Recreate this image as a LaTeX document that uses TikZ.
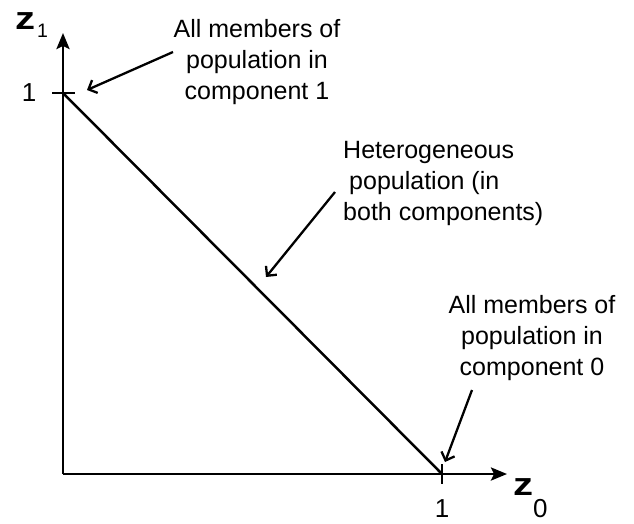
\documentclass[tikz,border=0pt]{standalone}
\usepackage{fontspec}
\setmainfont{Liberation Sans}
\usetikzlibrary{arrows.meta}
\tikzset{
  axis/.style={line width=2.7pt, -{Stealth[length=16pt,width=13pt,inset=3pt]}},
  plotline/.style={line width=2.5pt},
  tick/.style={line width=2.7pt},
  pointer/.style={line width=2.3pt, -{Straight Barb[length=7pt,width=14pt,line width=2.3pt]}},
  note/.style={inner sep=0pt, font=\fontsize{25}{31}\selectfont},
  ticklabel/.style={inner sep=0pt, font=\fontsize{26}{26}\selectfont},
  axislabel/.style={inner sep=0pt, font=\fontsize{32}{32}\selectfont}
}
\newcommand{\zglyph}{\textbf{\scalebox{1.25}[1]{z}}}
\begin{document}
\begin{tikzpicture}[x=1pt,y=-1pt]
\useasboundingbox[fill=white] (0,0) rectangle (634,523);
% axes
\coordinate (O) at (63,474);
\coordinate (ytip) at (63,33);
\coordinate (xtip) at (507,474);
\coordinate (p1) at (63,93);
\coordinate (q1) at (442,474);
\draw[axis] (O) -- (ytip);
\draw[axis] (O) -- (xtip);
\draw[plotline] (p1) -- (q1);
% ticks
\coordinate (ty1) at (52,93);
\coordinate (ty2) at (75,93);
\coordinate (tx1) at (442,464);
\coordinate (tx2) at (442,484);
\draw[tick] (ty1) -- (ty2);
\draw[tick] (tx1) -- (tx2);
% tick labels
\node[ticklabel] (oney) at (29,93) {1};
\node[ticklabel] (onex) at (442,509) {1};
% axis labels
\node[axislabel, anchor=base west] (z1) at (15,29) {\zglyph\hspace{2pt}\raisebox{-8pt}{\fontsize{19.5}{19.5}\selectfont 1}};
\node[axislabel, anchor=base west] (z0) at (513,495) {\zglyph\raisebox{-22pt}{\fontsize{26}{26}\selectfont 0}};
% notes
\node[note, align=center, anchor=north] (t1) at (257,19) {All members of\\population in\\component 1};
\node[note, align=left, anchor=north west] (t2) at (343,141) {Heterogeneous\\\hspace{6pt}population (in\\both components)};
\node[note, align=center, anchor=north] (t3) at (532,295) {All members of\\population in\\component 0};
% pointers
\coordinate (a1s) at (173,52);
\coordinate (a1e) at (87,90);
\coordinate (a2s) at (335,192);
\coordinate (a2e) at (266,277);
\coordinate (a3s) at (472,390);
\coordinate (a3e) at (445,462);
\draw[pointer] (a1s) -- (a1e);
\draw[pointer] (a2s) -- (a2e);
\draw[pointer] (a3s) -- (a3e);
\end{tikzpicture}
\end{document}
